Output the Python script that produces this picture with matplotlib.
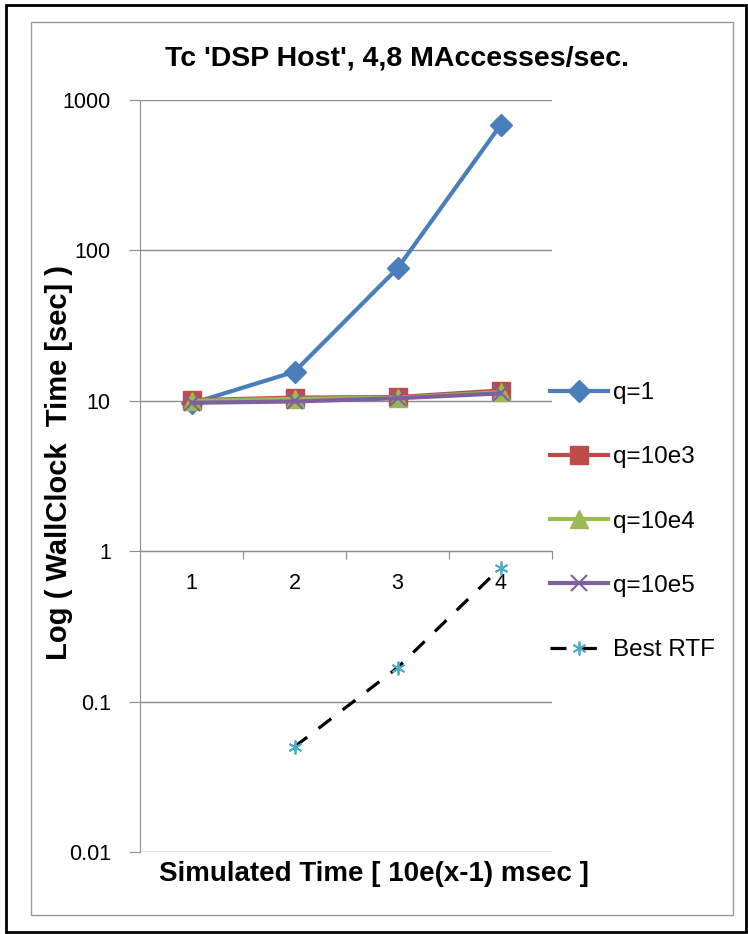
import matplotlib
matplotlib.use("Agg")
import matplotlib.pyplot as plt
from matplotlib.patches import Rectangle
from matplotlib.ticker import FixedLocator, NullLocator, FixedFormatter

plt.rcParams['font.family'] = ['Liberation Sans', 'DejaVu Sans']

x = [1, 2, 3, 4]
q1 = [9.6, 15.6, 76, 680]
q10e3 = [10.1, 10.5, 10.6, 11.7]
q10e4 = [10.0, 10.3, 10.5, 11.4]
q10e5 = [9.7, 9.9, 10.4, 11.2]
rtf_x = [2, 3, 4]
best_rtf = [0.050, 0.168, 0.776]
y_ticks = [0.01, 0.1, 1, 10, 100, 1000]
y_tick_labels = ['0.01', '0.1', '1', '10', '100', '1000']
x_tick_labels = ['1', '2', '3', '4']

W, H = 748, 934
fig = plt.figure(figsize=(W / 100, H / 100), dpi=100)

# frames
fig.patches.append(Rectangle((6 / W, 1 - 932 / H), 740 / W, 927 / H, transform=fig.transFigure,
                             fill=False, edgecolor='black', linewidth=2))
fig.patches.append(Rectangle((31 / W, 1 - 915 / H), 702 / W, 893 / H, transform=fig.transFigure,
                             fill=False, edgecolor='#9a9a9a', linewidth=1))

ax = fig.add_axes([140 / W, 1 - 852 / H, (552 - 140) / W, (852 - 100) / H])
ax.set_yscale('log')
ax.set_ylim(0.01, 1000)
ax.set_xlim(0.5, 4.5)

ax.yaxis.set_major_locator(FixedLocator(y_ticks))
ax.yaxis.set_major_formatter(FixedFormatter(y_tick_labels))
ax.yaxis.set_minor_locator(NullLocator())
ax.grid(axis='y', color='#8c8c8c', linewidth=1)
ax.set_axisbelow(True)

for s in ['top', 'right']:
    ax.spines[s].set_visible(False)
ax.spines['left'].set_color('#8c8c8c')
ax.spines['bottom'].set_color('#8c8c8c')
ax.spines['bottom'].set_position(('data', 1))

ax.xaxis.set_major_locator(FixedLocator([1.5, 2.5, 3.5, 4.5]))
ax.xaxis.set_major_formatter(FixedFormatter(['', '', '', '']))
ax.xaxis.set_minor_locator(FixedLocator(x))
ax.xaxis.set_minor_formatter(FixedFormatter(x_tick_labels))
ax.tick_params(axis='x', which='major', direction='out', length=6, color='#8c8c8c')
ax.tick_params(axis='x', which='minor', length=0, pad=16, labelsize=15.5)
ax.tick_params(axis='y', which='major', direction='out', length=8, color='#8c8c8c', pad=13, labelsize=15.5)

lw = 3.0
ax.plot(x, q1, color='#4a7ebb', lw=lw, marker='D', ms=11, label='q=1', zorder=3)
ax.plot(x, q10e3, color='#be4b48', lw=lw, marker='s', ms=13.5, label='q=10e3', zorder=4)
ax.plot(x, q10e4, color='#98b954', lw=lw, marker='^', ms=13, label='q=10e4', zorder=5)
ax.plot(x, q10e5, color='#7d60a0', lw=lw, marker='x', ms=12, mew=1.5, label='q=10e5', zorder=6)
ax.plot(rtf_x, best_rtf, color='black', lw=2.3, ls=(0, (5, 4.5)), marker=(6, 2, 0), ms=10,
        mec='#4bacc6', mfc='#4bacc6', mew=1.3, label='Best RTF', zorder=7)

leg = ax.legend(loc='upper left', bbox_to_anchor=(1.0 - 2 / 412, (852 - 382) / 752), frameon=False,
                fontsize=17.5, handlelength=2.4, handletextpad=0.2, labelspacing=1.74,
                borderaxespad=0, borderpad=0)

fig.text(397 / W, 1 - 58 / H, "Tc 'DSP Host', 4,8 MAccesses/sec.", ha='center', va='center',
         fontsize=20.5, fontweight='bold')
fig.text(374 / W, 1 - 874 / H, "Simulated Time [ 10e(x-1) msec ]", ha='center', va='center',
         fontsize=20, fontweight='bold')
fig.text(59 / W, 1 - 463 / H, "Log ( WallClock  Time [sec] )", ha='center', va='center',
         rotation=90, fontsize=21, fontweight='bold')

fig.savefig('out.png', dpi=100)
